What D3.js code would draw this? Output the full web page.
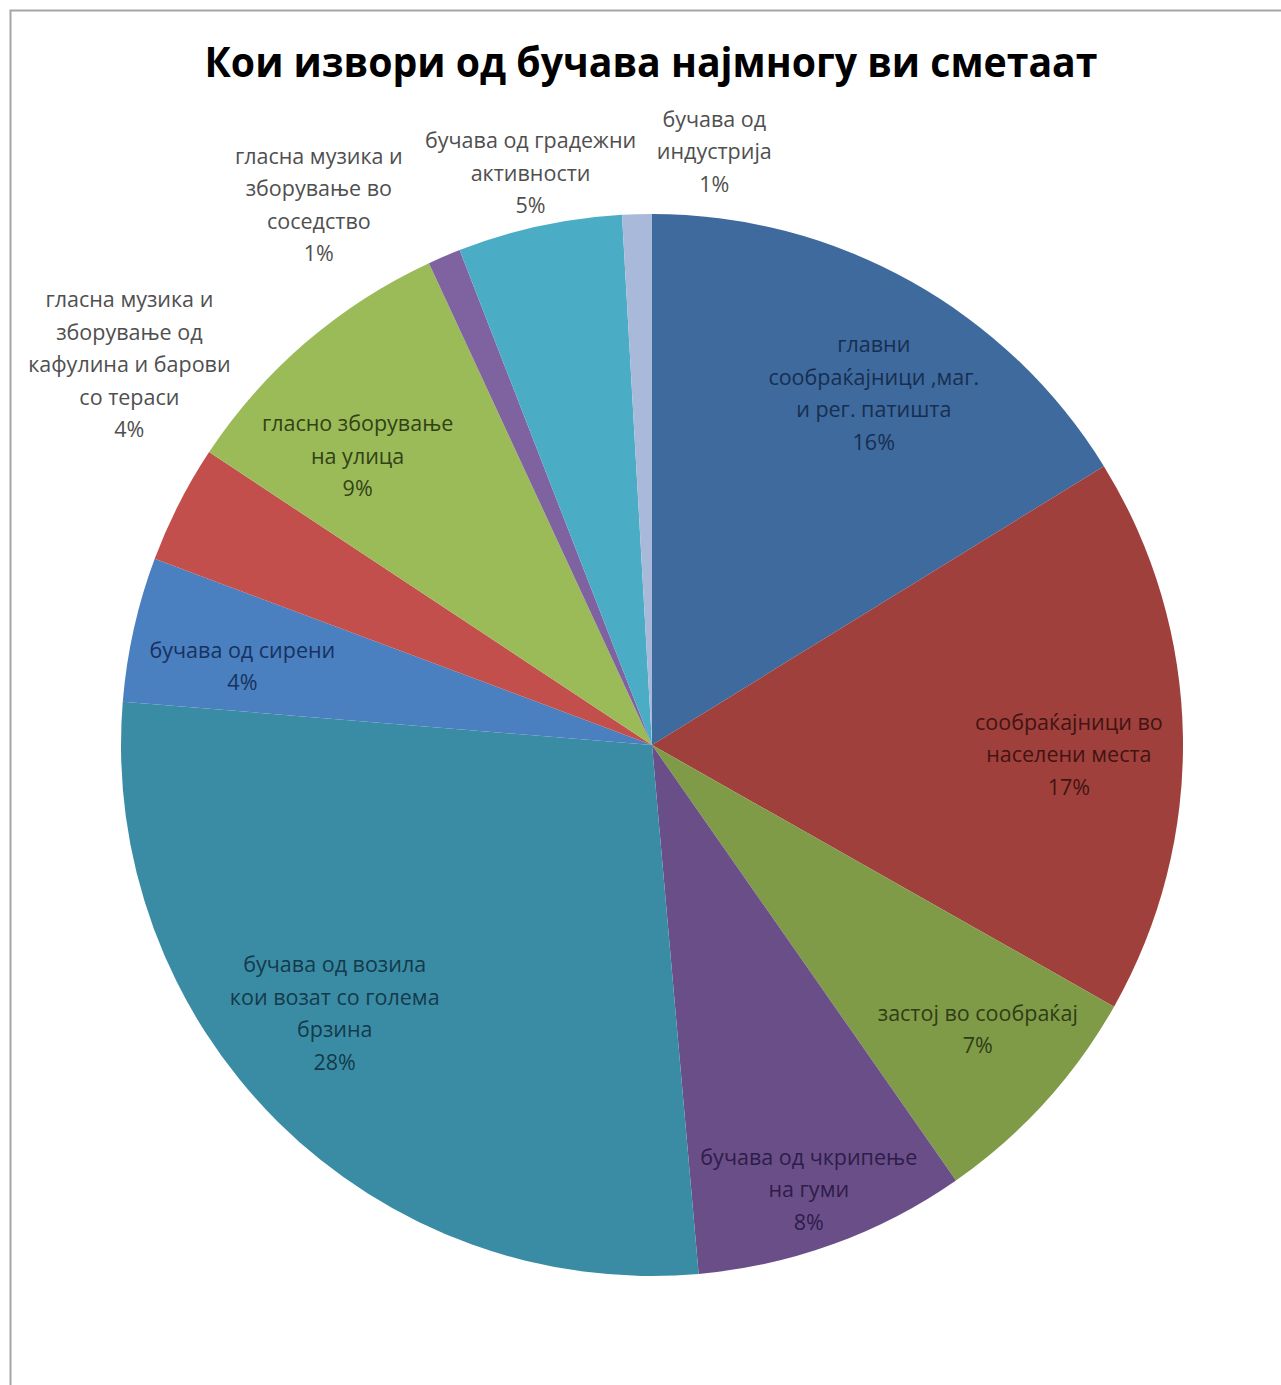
<!DOCTYPE html>
<html>
<head>
<meta charset="utf-8">
<script src="https://cdn.jsdelivr.net/npm/d3@7"></script>
<style>
  html, body { margin: 0; padding: 0; background: #fff; }
  svg { display: block; }
</style>
</head>
<body>
<svg id="chart" width="1281" height="1385"></svg>
<script>
// ---- data ----
const title = "Кои извори од бучава најмногу ви сметаат";
const categories = [
  ["главни", "сообраќајници ,маг.", "и рег. патишта"],
  ["сообраќајници во", "населени места"],
  ["застој во сообраќај"],
  ["бучава од чкрипење", "на гуми"],
  ["бучава од возила", "кои возат со голема", "брзина"],
  ["бучава од сирени"],
  ["гласна музика и", "зборување од", "кафулина и барови", "со тераси"],
  ["гласно зборување", "на улица"],
  ["гласна музика и", "зборување во", "соседство"],
  ["бучава од градежни", "активности"],
  ["бучава од", "индустрија"]
];
const values = [16.2, 17.0, 7.1, 8.3, 27.7, 4.4, 3.6, 8.8, 1.0, 5.0, 0.9];

// ---- styles / layout (not data) ----
const fills = ["#3E6A9E", "#A0403C", "#7F9B48", "#6A4E88", "#3A8CA5", "#4A7FC0",
               "#C24F4C", "#9BBB59", "#7F63A1", "#4BACC6", "#A9B9D9"];
const textCols = ["#182E50", "#421412", "#2F3D16", "#2E1D48", "#143A4B", "#17325F",
                  "#4F4F4F", "#324216", "#4F4F4F", "#4F4F4F", "#4F4F4F"];
// label anchor: [angle in degrees clockwise from 12 o'clock, radius]
const labelPlace = [[32.3, 415], [91.4, 417], [131.2, 433], [160.6, 472], [229.7, 416],
                    [280.8, 417], [306, 646], [314.4, 412], [328.3, 634], [348, 584], [6, 596]];

const W = 1281, H = 1385;
const cx = 652, cy = 745, R = 531;
const svg = d3.select("#chart");

svg.append("rect").attr("x", 10.5).attr("y", 10.5).attr("width", 1400).attr("height", 1500)
  .attr("fill", "#fff").attr("stroke", "#a6a6a6").attr("stroke-width", 2);

svg.append("text")
  .attr("x", 651).attr("y", 77)
  .attr("text-anchor", "middle")
  .attr("font-family", "'Open Sans', 'Noto Sans', sans-serif")
  .attr("font-weight", 700)
  .attr("font-size", 41)
  .attr("textLength", 893).attr("lengthAdjust", "spacingAndGlyphs")
  .attr("fill", "#000")
  .text(title);

const pie = d3.pie().sort(null).value(d => d)(values);
const arc = d3.arc().innerRadius(0).outerRadius(R);

const g = svg.append("g").attr("transform", `translate(${cx},${cy})`);
g.selectAll("path").data(pie).join("path")
  .attr("d", arc)
  .attr("fill", (d, i) => fills[i]);

const total = d3.sum(values);
const lineH = 32.5;
const fontFam = "'Open Sans', 'Noto Sans', sans-serif";

pie.forEach((d, i) => {
  const [ang, r] = labelPlace[i];
  const a = ang * Math.PI / 180;
  const x = cx + r * Math.sin(a);
  const y = cy - r * Math.cos(a);
  const lines = categories[i].concat([Math.round(values[i] / total * 100) + "%"]);
  const n = lines.length;
  const t = svg.append("text")
    .attr("text-anchor", "middle")
    .attr("font-family", fontFam)
    .attr("font-size", 21.5)
    .attr("fill", textCols[i]);
  lines.forEach((ln, k) => {
    t.append("tspan")
      .attr("x", x)
      .attr("y", y + (k - (n - 1) / 2) * lineH + 7)
      .text(ln);
  });
});
</script>
</body>
</html>
